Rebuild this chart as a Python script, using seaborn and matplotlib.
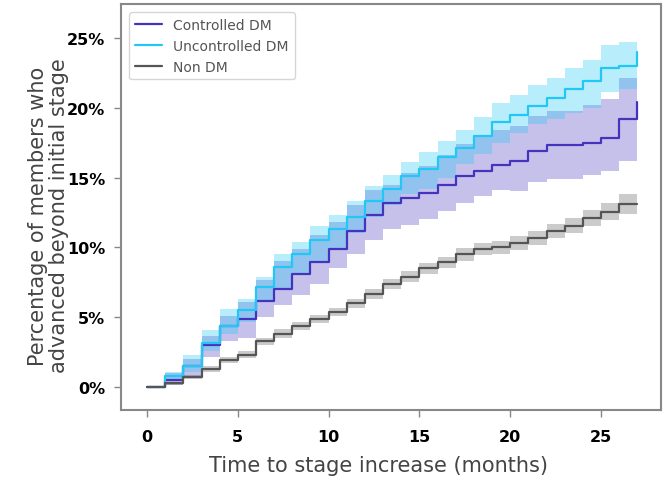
import numpy as np
import pandas as pd
import seaborn as sns
import matplotlib.pyplot as plt
from matplotlib.ticker import FuncFormatter

# months since start (step changes at each month)
months = list(range(28))

# Controlled DM: estimate, upper and lower confidence bound (%)
controlled = [0, 0.5, 1.5, 3.0, 4.4, 4.9, 6.2, 7.05, 8.1, 8.95, 9.9, 11.2, 12.3, 13.2,
              13.5, 13.9, 14.5, 15.1, 15.5, 15.9, 16.2, 16.9, 17.3, 17.3, 17.5, 17.85, 19.2, 20.4]
controlled_hi = [0, 1.0, 2.0, 3.7, 5.1, 6.1, 7.7, 9.0, 9.9, 10.9, 11.8, 13.0, 14.1, 14.5,
                 15.3, 15.8, 16.6, 17.4, 17.9, 18.4, 18.7, 19.4, 19.75, 19.75, 20.2, 20.6, 22.1, 22.1]
controlled_lo = [0, 0.2, 0.8, 2.2, 3.3, 3.5, 5.0, 5.9, 6.6, 7.4, 8.5, 9.5, 10.5, 11.3,
                 11.6, 12.0, 12.6, 13.2, 13.7, 14.1, 14.0, 14.65, 14.9, 14.9, 15.2, 15.5, 16.2, 16.2]

# Uncontrolled DM
uncontrolled = [0, 0.8, 1.5, 3.2, 4.4, 5.5, 7.2, 8.6, 9.5, 10.5, 11.3, 12.2, 13.3, 14.2,
                15.1, 15.6, 16.5, 17.1, 18.0, 19.0, 19.5, 20.1, 20.7, 21.3, 21.9, 22.8, 23.0, 24.0]
uncontrolled_hi = [0, 1.1, 2.3, 4.1, 5.6, 6.3, 7.9, 9.5, 10.4, 11.5, 12.3, 13.3, 14.4, 15.2,
                   16.1, 16.8, 17.6, 18.4, 19.35, 20.35, 20.9, 21.6, 22.1, 22.8, 23.4, 24.5, 24.7, 26.0]
uncontrolled_lo = [0, 0.5, 1.1, 2.6, 3.8, 4.7, 6.2, 7.1, 8.1, 9.0, 9.9, 11.0, 12.2, 13.0,
                   13.8, 14.2, 15.0, 16.0, 16.7, 17.5, 18.2, 18.8, 19.2, 19.6, 20.0, 21.1, 21.3, 22.0]

# Non DM
non_dm = [0, 0.3, 0.75, 1.3, 1.95, 2.35, 3.3, 3.85, 4.4, 4.9, 5.4, 6.0, 6.7, 7.4,
          7.9, 8.5, 8.95, 9.5, 9.9, 10.0, 10.3, 10.7, 11.2, 11.55, 12.1, 12.55, 13.1, 13.1]
non_dm_ci = [0, 0.1, 0.15, 0.2, 0.2, 0.25, 0.25, 0.3, 0.3, 0.3, 0.3, 0.35, 0.35, 0.35,
             0.4, 0.4, 0.4, 0.45, 0.45, 0.45, 0.5, 0.5, 0.5, 0.55, 0.55, 0.6, 0.7, 0.7]
non_dm_hi = [v + d for v, d in zip(non_dm, non_dm_ci)]
non_dm_lo = [v - d for v, d in zip(non_dm, non_dm_ci)]

groups = ["Controlled DM", "Uncontrolled DM", "Non DM"]
colors = {"Controlled DM": "#4433bd", "Uncontrolled DM": "#22c8f5", "Non DM": "#555555"}

df = pd.concat([
    pd.DataFrame({"month": months, "pct": controlled, "lo": controlled_lo, "hi": controlled_hi, "group": "Controlled DM"}),
    pd.DataFrame({"month": months, "pct": uncontrolled, "lo": uncontrolled_lo, "hi": uncontrolled_hi, "group": "Uncontrolled DM"}),
    pd.DataFrame({"month": months, "pct": non_dm, "lo": non_dm_lo, "hi": non_dm_hi, "group": "Non DM"}),
])

sns.set_style("white")
plt.rcParams['font.family'] = ['DejaVu Sans']

fig = plt.figure(figsize=(6.65, 4.81), dpi=100)
ax = fig.add_axes([0.1815, 0.146, 0.8125, 0.8436])

# confidence bands
band_alpha = {"Controlled DM": 0.3, "Uncontrolled DM": 0.32, "Non DM": 0.3}
for g in groups:
    sub = df[df["group"] == g]
    ax.fill_between(sub["month"], sub["lo"], sub["hi"], step="post",
                    color=colors[g], alpha=band_alpha[g], linewidth=0)

sns.lineplot(data=df, x="month", y="pct", hue="group", hue_order=groups,
             palette=colors, estimator=None, drawstyle="steps-post",
             linewidth=1.6, ax=ax)

ax.set_xlim(-1.45, 28.3)
ax.set_ylim(-1.6, 27.4)
ax.set_xticks([0, 5, 10, 15, 20, 25])
ax.set_yticks([0, 5, 10, 15, 20, 25])
ax.yaxis.set_major_formatter(FuncFormatter(lambda v, p: f"{int(v)}%"))

for lab in ax.get_xticklabels() + ax.get_yticklabels():
    lab.set_fontweight("bold")
    lab.set_fontsize(11.5)
    lab.set_color("black")
ax.tick_params(axis="both", which="major", length=5, width=1, color="#888888",
               direction="out", bottom=True, left=True, pad=6)
ax.tick_params(axis="x", pad=9)

for s in ax.spines.values():
    s.set_color("#888888")
    s.set_linewidth(1.5)

ax.set_xlabel("Time to stage increase (months)", fontsize=15, color="#444444")
ax.xaxis.set_label_coords(0.477, -0.112)
ax.set_ylabel("Percentage of members who\nadvanced beyond initial stage", fontsize=15,
              color="#444444", linespacing=1.1)
ax.yaxis.set_label_coords(-0.095, 0.48)

leg = ax.legend(loc="upper left", fontsize=10, frameon=True, title=None,
                borderaxespad=0.6)
for t in leg.get_texts():
    t.set_color("#555555")
leg.get_frame().set_edgecolor("#cccccc")

fig.savefig("out.png", dpi=100)
